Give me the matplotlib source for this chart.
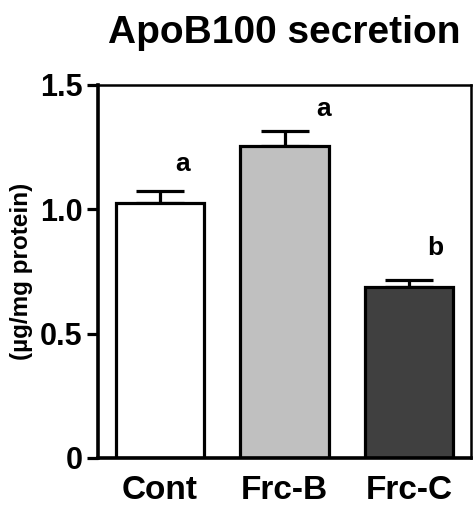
import numpy as np
import matplotlib.pyplot as plt

plt.rcParams['font.family'] = ['Liberation Sans', 'DejaVu Sans']
plt.rcParams['font.weight'] = 'bold'

groups = ["Cont", "Frc-B", "Frc-C"]
means = [1.025, 1.255, 0.688]
sems = [0.049, 0.060, 0.028]
letters = ["a", "a", "b"]
letter_y = [1.154, 1.375, 0.816]
letter_dx = [0.18, 0.31, 0.21]
colors = ["#ffffff", "#c0c0c0", "#404040"]
yticks = [0, 0.5, 1.0, 1.5]
ytick_labels = ["0", "0.5", "1.0", "1.5"]

fig = plt.figure(figsize=(4.75, 5.21), dpi=100)
ax = fig.add_axes([0.206, 0.121, 0.786, 0.716])

x = np.arange(len(groups))
ax.bar(x, means, width=0.71, color=colors, edgecolor="black", linewidth=2.3, zorder=2)
ax.errorbar(x, means, yerr=[np.zeros(3), sems], fmt="none", ecolor="black",
            elinewidth=2.3, capsize=17, capthick=2.3, zorder=1)

for xi, dx, ly, lt in zip(x, letter_dx, letter_y, letters):
    ax.text(xi + dx, ly, lt, ha="center", va="baseline", fontsize=19, fontweight="bold")

ax.set_xlim(-0.5, 2.5)
ax.set_ylim(0, 1.5)
ax.set_yticks(yticks)
ax.set_yticklabels(ytick_labels, fontsize=22, fontweight="bold")
ax.set_xticks(x)
ax.set_xticklabels(groups, fontsize=24, fontweight="bold")
ax.tick_params(axis="y", length=8, width=2.3, pad=3)
ax.tick_params(axis="x", length=0, pad=12)

ax.spines["left"].set_linewidth(2.6)
ax.spines["bottom"].set_linewidth(2.6)
ax.spines["top"].set_linewidth(1.8)
ax.spines["right"].set_linewidth(1.8)

ax.set_ylabel("(µg/mg protein)", fontsize=17.5, fontweight="bold", labelpad=5)
ax.set_title("ApoB100 secretion", fontsize=28, fontweight="bold", pad=30)

fig.savefig("out.png", dpi=100)
